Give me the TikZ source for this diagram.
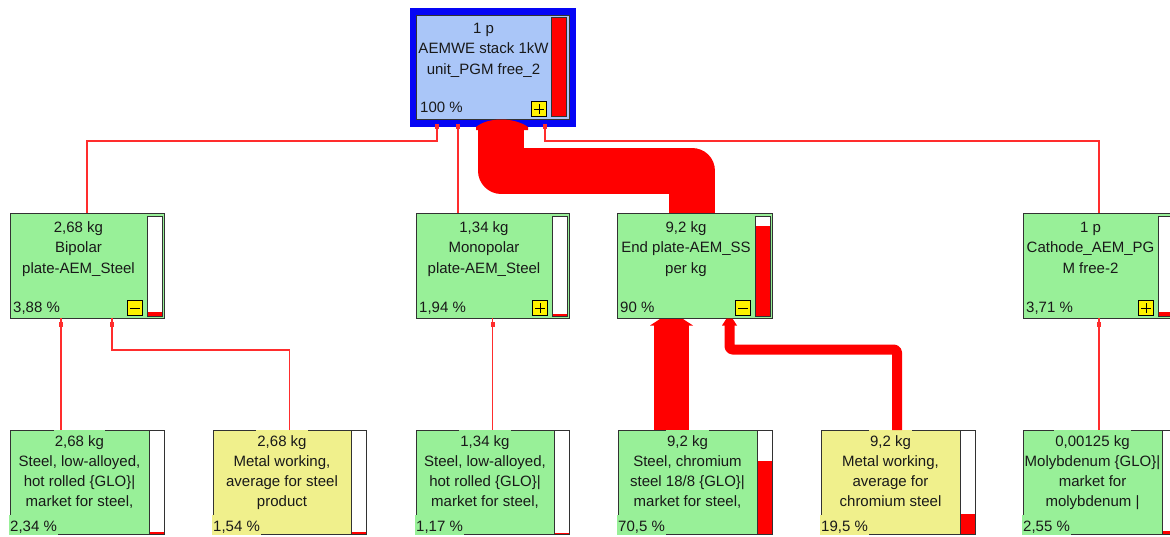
\documentclass[tikz,border=0pt]{standalone}
\usepackage{fontspec}
\setmainfont{Liberation Sans}
\usetikzlibrary{calc}
\definecolor{pgreen}{RGB}{152,240,152}
\definecolor{pyellow}{RGB}{240,240,140}
\definecolor{pblue}{RGB}{170,198,248}
\definecolor{frameblue}{RGB}{5,5,245}
\definecolor{boxline}{RGB}{50,50,50}
\definecolor{txt}{RGB}{25,25,25}
\definecolor{flow}{RGB}{255,0,0}
\definecolor{thinred}{RGB}{255,45,45}
\tikzset{
  proc/.style={draw=boxline, line width=1pt, anchor=north west, inner sep=0pt, outer sep=0pt},
  barline/.style={draw=boxline, line width=1pt},
  lbl/.style={font=\fontsize{15}{20}\selectfont, text=txt, inner sep=0pt, text height=14pt, text depth=4pt, anchor=base},
  pct/.style={lbl, anchor=base west},
  flbl/.style={lbl, fill=#1, inner xsep=1pt, text height=16.5pt, text depth=3.5pt},
  fpct/.style={flbl=#1, anchor=base west},
  tog/.style={draw=black, fill=yellow, line width=0.8pt, minimum width=15pt, minimum height=15pt, inner sep=0pt, anchor=south east},
  thinflow/.style={draw=thinred, line width=1.3pt},
  flowmark/.style={fill=thinred},
  bigflow/.style={draw=flow, line join=round, line width=#1},
}
\newcommand\midbar[2]{%
  \fill[white] ($(#1.north east)+(-17,3)$) rectangle ($(#1.south east)+(-2,-2)$);
  \fill[flow] ($(#1.south east)+(-17,-2)$) rectangle ++(15,-#2);
  \draw[barline] ($(#1.north east)+(-17,3)$) rectangle ($(#1.south east)+(-2,-2)$);}
\newcommand\lowbar[2]{%
  \fill[white] ($(#1.north east)+(-15,0)$) rectangle (#1.south east);
  \fill[flow] ($(#1.south east)+(-15,0)$) rectangle ++(15,-#2);
  \draw[barline] ($(#1.north east)+(-15,0)$) rectangle (#1.south east);}
\newcommand\plussign[1]{\draw[line width=1.1pt] ($(#1.center)+(-5,0)$) -- ++(10,0) ($(#1.center)+(0,-5)$) -- ++(0,10);}
\newcommand\minussign[1]{\draw[line width=1.1pt] ($(#1.center)+(-5,0)$) -- ++(10,0);}
\newcommand\fmark[1]{\fill[flowmark] ($(#1)+(-2,3.5)$) rectangle ++(4,5);}
\begin{document}
\begin{tikzpicture}[x=1pt,y=-1pt]
\useasboundingbox (0,0) rectangle (1170,536);
\clip (0,0) rectangle (1170,536);
\fill[white] (0,0) rectangle (1170,536);

% ---------- top node ----------
\node[proc, draw=frameblue, fill=frameblue, minimum width=165pt, minimum height=118pt] (topframe) at (410,8) {};
\node[proc, fill=pblue, minimum width=153pt, minimum height=104pt] (top) at (416,15) {};
\draw[barline, fill=flow] ($(top.north east)+(-18,2)$) rectangle ($(top.south east)+(-3,-3)$);
\node[tog] (topplus) at ($(top.south east)+(-22,-2)$) {};
\plussign{topplus}
\node[lbl] (topa) at (483.5,33) {1 p};
\node[lbl] (topb) at (483.5,53.5) {AEMWE stack 1kW};
\node[lbl] (topc) at (483.5,74) {unit\_PGM free\_2};
\node[pct] (topd) at (420,112) {100 \%};

% ---------- second row ----------
\node[proc, fill=pgreen, minimum width=154pt, minimum height=105pt] (bip) at (10,213) {};
\midbar{bip}{3.9}
\node[tog] (bipm) at ($(bip.south east)+(-21,-2)$) {};
\minussign{bipm}
\node[lbl] (bipa) at (78.5,232) {2,68 kg};
\node[lbl] (bipb) at (78.5,252.5) {Bipolar};
\node[lbl] (bipc) at (78.5,273) {plate-AEM\_Steel};
\node[pct] (bipd) at (13,312) {3,88 \%};

\node[proc, fill=pgreen, minimum width=153pt, minimum height=105pt] (mono) at (416,213) {};
\midbar{mono}{2}
\node[tog] (monop) at ($(mono.south east)+(-21,-2)$) {};
\plussign{monop}
\node[lbl] (monoa) at (484,232) {1,34 kg};
\node[lbl] (monob) at (484,252.5) {Monopolar};
\node[lbl] (monoc) at (484,273) {plate-AEM\_Steel};
\node[pct] (monod) at (419,312) {1,94 \%};

\node[proc, fill=pgreen, minimum width=155pt, minimum height=105pt] (ep) at (617,213) {};
\midbar{ep}{90}
\node[tog] (epm) at ($(ep.south east)+(-21,-2)$) {};
\minussign{epm}
\node[lbl] (epa) at (686,232) {9,2 kg};
\node[lbl] (epb) at (686,252.5) {End plate-AEM\_SS};
\node[lbl] (epc) at (686,273) {per kg};
\node[pct] (epd) at (620,312) {90 \%};

\node[proc, fill=pgreen, minimum width=152pt, minimum height=105pt] (cat) at (1023,213) {};
\midbar{cat}{3.7}
\node[tog] (catp) at ($(cat.south east)+(-21,-2)$) {};
\plussign{catp}
\node[lbl] (cata) at (1090.5,232) {1 p};
\node[lbl] (catb) at (1090.5,252.5) {Cathode\_AEM\_PG};
\node[lbl] (catc) at (1090.5,273) {M free-2};
\node[pct] (catd) at (1026,312) {3,71 \%};

% ---------- bottom row ----------
\node[proc, fill=pgreen, minimum width=154pt, minimum height=104pt] (s1) at (10,430) {};
\lowbar{s1}{2.4}
\node[flbl=pgreen] (s1a) at (79.5,446) {2,68 kg};
\node[flbl=pgreen] (s1b) at (79.5,466) {Steel, low-alloyed,};
\node[flbl=pgreen] (s1c) at (79.5,486) {hot rolled \{GLO\}|};
\node[flbl=pgreen] (s1d) at (79.5,506) {market for steel,};
\node[fpct=pgreen] (s1e) at (9,531) {2,34 \%};

\node[proc, fill=pyellow, minimum width=153pt, minimum height=104pt] (m1) at (213,430) {};
\lowbar{m1}{1.6}
\node[flbl=pyellow] (m1a) at (282,446) {2,68 kg};
\node[flbl=pyellow] (m1b) at (282,466) {Metal working,};
\node[flbl=pyellow] (m1c) at (282,486) {average for steel};
\node[flbl=pyellow] (m1d) at (282,506) {product};
\node[fpct=pyellow] (m1e) at (212,531) {1,54 \%};

\node[proc, fill=pgreen, minimum width=153pt, minimum height=104pt] (s2) at (416,430) {};
\lowbar{s2}{1.2}
\node[flbl=pgreen] (s2a) at (485,446) {1,34 kg};
\node[flbl=pgreen] (s2b) at (485,466) {Steel, low-alloyed,};
\node[flbl=pgreen] (s2c) at (485,486) {hot rolled \{GLO\}|};
\node[flbl=pgreen] (s2d) at (485,506) {market for steel,};
\node[fpct=pgreen] (s2e) at (415,531) {1,17 \%};

\node[proc, fill=pgreen, minimum width=154pt, minimum height=104pt] (ch) at (618,430) {};
\lowbar{ch}{73}
\node[flbl=pgreen] (cha) at (687.5,446) {9,2 kg};
\node[flbl=pgreen] (chb) at (687.5,466) {Steel, chromium};
\node[flbl=pgreen] (chc) at (687.5,486) {steel 18/8 \{GLO\}|};
\node[flbl=pgreen] (chd) at (687.5,506) {market for steel,};
\node[fpct=pgreen] (che) at (617,531) {70,5 \%};

\node[proc, fill=pyellow, minimum width=154pt, minimum height=104pt] (m2) at (821,430) {};
\lowbar{m2}{20.3}
\node[flbl=pyellow] (m2a) at (890.5,446) {9,2 kg};
\node[flbl=pyellow] (m2b) at (890.5,466) {Metal working,};
\node[flbl=pyellow] (m2c) at (890.5,486) {average for};
\node[flbl=pyellow] (m2d) at (890.5,506) {chromium steel};
\node[fpct=pyellow] (m2e) at (820,531) {19,5 \%};

\node[proc, fill=pgreen, minimum width=154pt, minimum height=104pt] (mo) at (1023,430) {};
\lowbar{mo}{2.7}
\node[flbl=pgreen] (moa) at (1092.5,446) {0,00125 kg};
\node[flbl=pgreen] (mob) at (1092.5,466) {Molybdenum \{GLO\}|};
\node[flbl=pgreen] (moc) at (1092.5,486) {market for};
\node[flbl=pgreen] (mod) at (1092.5,506) {molybdenum |};
\node[fpct=pgreen] (moe) at (1022,531) {2,55 \%};

% ---------- ports ----------
\coordinate (tp1) at ($(topframe.south west)+(27,0)$);
\coordinate (tp2) at ($(topframe.south west)+(48,0)$);
\coordinate (tp3) at ($(topframe.south west)+(135,0)$);
\coordinate (tpbig) at ($(topframe.south west)+(91,4)$);
\coordinate (bp1) at ($(bip.south west)+(51,0)$);
\coordinate (bp2) at ($(bip.south west)+(102,0)$);
\coordinate (epin1) at ($(ep.south west)+(54,7)$);
\coordinate (epin2) at ($(ep.south west)+(112.5,7)$);

% ---------- thin connectors ----------
\draw[thinflow] (bip.north) -- ++(0,-72) -| (tp1);
\draw[thinflow] (tp2) -- (tp2 |- mono.north);
\draw[thinflow] (cat.north) -- ++(0,-72) -| (tp3);
\draw[thinflow] (bp1) -- (bp1 |- s1.north);
\draw[thinflow] (m1.north) -- ++(0,-80) -| (bp2);
\draw[thinflow] (mono.south) -- (mono.south |- s2.north);
\draw[thinflow] (cat.south) -- (cat.south |- mo.north);
\fill[flowmark] ($(tp1)+(-2,-2)$) rectangle ++(4,5);
\fill[flowmark] ($(tp2)+(-2,-2)$) rectangle ++(4,5);
\fill[flowmark] ($(tp3)+(-2,-2)$) rectangle ++(4,5);
\fmark{bp1}
\fmark{bp2}
\fmark{mono.south}
\fmark{cat.south}

% ---------- thick connectors ----------
\draw[bigflow=46pt] ($(ep.north)+(-2.5,0)$) -- ++(0,-42.5) -| (tpbig);
\fill[flow] ($(tpbig)+(-25,0)$) -- ++(0,-3) .. controls ($(tpbig)+(-13,-13)$) and ($(tpbig)+(13,-13)$) .. ($(tpbig)+(27,-3)$) -- ++(0,3) -- cycle;
\draw[bigflow=35pt] ($(ch.north)+(-24,0)$) -- (epin1);
\fill[flow] ($(epin1)+(-21,0.5)$) -- ($(epin1)+(-11,-6)$) -- ($(epin1)+(12,-6)$) -- ($(epin1)+(22,0.5)$) -- cycle;
\draw[bigflow=10pt, rounded corners=3pt] ($(m2.north)+(-1,0)$) -- ++(0,-80.5) -| (epin2);
\fill[flow] ($(epin2)+(-7.5,0.5)$) -- ($(epin2)+(-3,-6.5)$) -- ($(epin2)+(3,-6.5)$) -- ($(epin2)+(7.5,0.5)$) -- cycle;
\end{tikzpicture}
\end{document}
